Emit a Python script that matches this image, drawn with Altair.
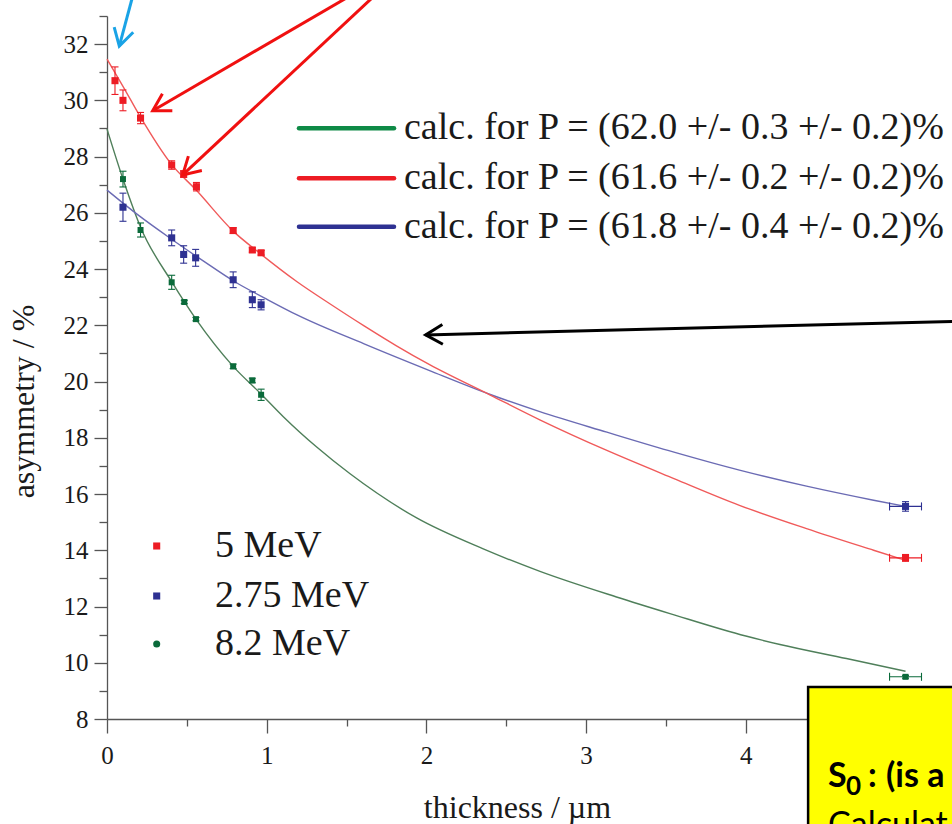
import math
import altair as alt
import pandas as pd

# ---------------- data ----------------
X_TITLE = "thickness / µm"
Y_TITLE = "asymmetry / %"

# 5 MeV (red squares)
RED_X = [0.05, 0.10, 0.21, 0.405, 0.48, 0.56, 0.79, 0.91, 0.965, 5.0]
RED_Y = [30.70, 30.00, 29.37, 27.70, 27.38, 26.93, 25.37, 24.68, 24.58, 13.73]
RED_YERR = [0.49, 0.37, 0.20, 0.15, 0.12, 0.15, 0.10, 0.08, 0.08, 0.12]
RED_XERR = [0, 0, 0, 0, 0, 0, 0, 0, 0, 0.10]

# 2.75 MeV (blue squares)
BLUE_X = [0.10, 0.405, 0.48, 0.555, 0.79, 0.91, 0.965, 5.0]
BLUE_Y = [26.20, 25.11, 24.52, 24.40, 23.62, 22.91, 22.73, 15.56]
BLUE_YERR = [0.50, 0.28, 0.31, 0.30, 0.28, 0.28, 0.18, 0.17]
BLUE_XERR = [0, 0, 0, 0, 0, 0, 0, 0.10]

# 8.2 MeV (green dots)
GREEN_X = [0.10, 0.21, 0.405, 0.484, 0.557, 0.79, 0.91, 0.965, 5.0]
GREEN_Y = [27.20, 25.39, 23.53, 22.83, 22.22, 20.54, 20.04, 19.53, 9.50]
GREEN_YERR = [0.28, 0.25, 0.25, 0.06, 0.06, 0.08, 0.08, 0.20, 0.05]
GREEN_XERR = [0, 0, 0, 0, 0, 0, 0, 0, 0.10]

# calculated curves
RED_CURVE_X = [0, 0.1, 0.21, 0.4, 0.56, 0.79, 0.96, 1.19, 1.40, 1.61, 1.81, 2.02,
               2.40, 2.71, 3.13, 3.55, 3.96, 4.38, 4.80, 5.0]
RED_CURVE_Y = [31.47, 30.50, 29.40, 27.75, 26.80, 25.35, 24.55, 23.55, 22.75, 21.98,
               21.28, 20.60, 19.52, 18.64, 17.55, 16.55, 15.60, 14.77, 14.00, 13.64]
BLUE_CURVE_X = [0, 0.2, 0.4, 0.6, 0.8, 1.0, 1.19, 1.61, 2.02, 2.40, 2.71, 3.13, 3.55,
                3.96, 4.38, 4.80, 5.0]
BLUE_CURVE_Y = [26.81, 25.90, 25.08, 24.30, 23.55, 22.93, 22.37, 21.34, 20.39, 19.54,
                18.93, 18.20, 17.49, 16.85, 16.28, 15.78, 15.56]
GREEN_CURVE_X = [0, 0.1, 0.21, 0.405, 0.557, 0.79, 0.966, 1.104, 1.313, 1.522, 1.939,
                 2.356, 2.711, 3.19, 3.525, 4.0, 4.214, 4.63, 5.0]
GREEN_CURVE_Y = [28.98, 27.20, 25.49, 23.55, 22.22, 20.54, 19.55, 18.75, 17.67, 16.72,
                 15.15, 14.05, 13.25, 12.34, 11.75, 10.95, 10.65, 10.15, 9.70]

CURVE_LABELS = ["calc. for P = (62.0 +/- 0.3 +/- 0.2)%",
                "calc. for P = (61.6 +/- 0.2 +/- 0.2)%",
                "calc. for P = (61.8 +/- 0.4 +/- 0.2)%"]
POINT_LABELS = ["5 MeV", "2.75 MeV", "8.2 MeV"]

X_TICKS = [0, 0.5, 1, 1.5, 2, 2.5, 3, 3.5, 4]
Y_TICKS = list(range(8, 34))

# slide annotations (in data units): tail x, tail y, head x, head y
ARROW_TAIL_X = [0.163, 1.532, 1.680, 5.31]
ARROW_TAIL_Y = [33.75, 33.75, 33.75, 22.14]
ARROW_HEAD_X = [0.077, 0.286, 0.474, 1.995]
ARROW_HEAD_Y = [31.93, 29.63, 27.35, 21.66]
ARROW_COLORS = ["#1aa3e6", "#f01010", "#f01010", "#000000"]
BOX_TEXTS = ["S", "0", ":", "(is a", "Calculat"]

# ---------------- layout / style ----------------
W, H = 845, 703
X_MAX = 5.291
Y_MIN, Y_MAX = 8, 33
PX_X = W / X_MAX
PX_Y = H / (Y_MAX - Y_MIN)
FONT = "Liberation Serif"
TXT = "#1a1a1a"
AX = "#555555"

RED_PT, BLUE_PT, GREEN_PT = "#ed1c24", "#2e3192", "#0a6a3a"
RED_LN, BLUE_LN, GREEN_LN = "#f05a5a", "#6b6bb4", "#4f7f5a"
LEG_LN = ["#0e8a46", "#ed1c24", "#2e3192"]

xs = alt.Scale(domain=[0, X_MAX], nice=False, zero=False)
ys = alt.Scale(domain=[Y_MIN, Y_MAX], nice=False, zero=False)

x_axis = alt.Axis(
    values=X_TICKS, title=X_TITLE, grid=False,
    labelExpr="datum.value % 1 === 0 ? format(datum.value, 'd') : ''",
    tickSize={"condition": {"test": "datum.value % 1 === 0", "value": 14}, "value": 7},
    labelPadding=10, labelFont=FONT, labelFontSize=25, labelColor=TXT,
    labelBaseline="top", labelFlush=False, labelOverlap=False,
    domainColor=AX, domainWidth=1.3, tickColor=AX, tickWidth=1.3,
    titleFont=FONT, titleFontSize=32, titleFontWeight="normal", titleColor=TXT,
    titleX=410, titleY=98, titleBaseline="alphabetic", titleAlign="center",
)
y_axis = alt.Axis(
    values=Y_TICKS, title=Y_TITLE, grid=False,
    labelExpr="datum.value % 2 === 0 ? format(datum.value, 'd') : ''",
    tickSize={"condition": {"test": "datum.value % 2 === 0", "value": 13}, "value": 8},
    labelPadding=6, labelFont=FONT, labelFontSize=25, labelColor=TXT,
    labelBaseline="middle", labelFlush=False, labelOverlap=False,
    domainColor=AX, domainWidth=1.3, tickColor=AX, tickWidth=1.3,
    titleFont=FONT, titleFontSize=32, titleFontWeight="normal", titleColor=TXT,
    titleX=-74, titleY=385, titleBaseline="alphabetic", titleAlign="center", titleAngle=270,
)


def X(field):
    return alt.X(field, type="quantitative", scale=xs, axis=x_axis)


def Y(field):
    return alt.Y(field, type="quantitative", scale=ys, axis=y_axis)


layers = []

# curves
for cx, cy, col in [(GREEN_CURVE_X, GREEN_CURVE_Y, GREEN_LN),
                    (BLUE_CURVE_X, BLUE_CURVE_Y, BLUE_LN),
                    (RED_CURVE_X, RED_CURVE_Y, RED_LN)]:
    df = pd.DataFrame({"x": cx, "y": cy})
    layers.append(alt.Chart(df).mark_line(color=col, strokeWidth=1.4, interpolate="monotone")
                  .encode(x=X("x"), y=Y("y")))

# measured points with error bars
for px_, py_, ye, xe, col, shape, size in [
        (GREEN_X, GREEN_Y, GREEN_YERR, GREEN_XERR, GREEN_PT, "square", 36),
        (BLUE_X, BLUE_Y, BLUE_YERR, BLUE_XERR, BLUE_PT, "square", 50),
        (RED_X, RED_Y, RED_YERR, RED_XERR, RED_PT, "square", 50)]:
    df = pd.DataFrame({"x": px_, "y": py_, "ye": ye, "xe": xe})
    df["lo"] = df["y"] - df["ye"]
    df["hi"] = df["y"] + df["ye"]
    df["xlo"] = df["x"] - df["xe"]
    df["xhi"] = df["x"] + df["xe"]
    caps = pd.DataFrame({"x": list(df["x"]) * 2, "yv": list(df["lo"]) + list(df["hi"])})
    dfx = df[df["xe"] > 0]
    xcaps = pd.DataFrame({"xv": list(dfx["xlo"]) + list(dfx["xhi"]), "y": list(dfx["y"]) * 2})

    layers.append(alt.Chart(df).mark_rule(color=col, strokeWidth=1.1)
                  .encode(x=X("x"), y=Y("lo"), y2="hi"))
    layers.append(alt.Chart(caps).mark_tick(color=col, orient="horizontal", size=7,
                                            thickness=1.1, opacity=1)
                  .encode(x=X("x"), y=Y("yv")))
    if len(dfx):
        layers.append(alt.Chart(dfx).mark_rule(color=col, strokeWidth=1.1)
                      .encode(x=X("xlo"), x2="xhi", y=Y("y")))
        layers.append(alt.Chart(xcaps).mark_tick(color=col, orient="vertical", size=8,
                                                 thickness=1.1, opacity=1)
                      .encode(x=X("xv"), y=Y("y")))
    layers.append(alt.Chart(df).mark_point(shape=shape, filled=True, color=col, size=size,
                                           opacity=1)
                  .encode(x=X("x"), y=Y("y")))

# legend: calculated curves
LEG1_ROWS = [112.3, 162.3, 210.7]
for lab, col, ry in zip(CURVE_LABELS, LEG_LN, LEG1_ROWS):
    d = pd.DataFrame({"label": [lab]})
    layers.append(alt.Chart(d).mark_rule(color=col, strokeWidth=4.5, strokeCap="round")
                  .encode(x=alt.value(192), x2=alt.value(287), y=alt.value(ry)))
    layers.append(alt.Chart(d).mark_text(align="left", baseline="middle", font=FONT,
                                         fontSize=38, color=TXT)
                  .encode(x=alt.value(297), y=alt.value(ry), text="label:N"))

# legend: measured data
LEG2_ROWS = [530, 580, 628]
for lab, col, shape, ry in zip(POINT_LABELS, [RED_PT, BLUE_PT, GREEN_PT],
                               ["square", "square", "circle"], LEG2_ROWS):
    d = pd.DataFrame({"label": [lab]})
    layers.append(alt.Chart(d).mark_point(shape=shape, filled=True, color=col, size=50,
                                          opacity=1)
                  .encode(x=alt.value(49.7), y=alt.value(ry)))
    layers.append(alt.Chart(d).mark_text(align="left", baseline="middle", font=FONT,
                                         fontSize=38, color=TXT)
                  .encode(x=alt.value(108), y=alt.value(ry), text="label:N"))

# slide annotations: arrows
CHEVRON = "M-1,-0.58L0,0L-1,0.58"
for tx, ty, hx, hy, col in zip(ARROW_TAIL_X, ARROW_TAIL_Y, ARROW_HEAD_X, ARROW_HEAD_Y,
                               ARROW_COLORS):
    d = pd.DataFrame({"tx": [tx], "ty": [ty], "hx": [hx], "hy": [hy]})
    ang = math.degrees(math.atan2(-(hy - ty) * PX_Y, (hx - tx) * PX_X)) % 360
    layers.append(alt.Chart(d).mark_rule(color=col, strokeWidth=3)
                  .encode(x=X("tx"), y=Y("ty"), x2="hx", y2="hy"))
    layers.append(alt.Chart(d).mark_point(shape=CHEVRON, filled=False, color=col,
                                          strokeWidth=3, size=1156, angle=ang, opacity=1,
                                          strokeJoin="miter")
                  .encode(x=X("hx"), y=Y("hy")))

# slide annotation: yellow box
box = pd.DataFrame({"x": [4.39], "x2": [5.6], "y": [9.14], "y2": [3.0]})
layers.append(alt.Chart(box).mark_rect(fill="#ffff00", stroke="#000000", strokeWidth=2.5)
              .encode(x=X("x"), x2="x2", y=Y("y"), y2="y2"))
for txt, tx, ty, fs, fw in zip(BOX_TEXTS,
                               [4.515, 4.628, 4.765, 4.878, 4.515],
                               [5.58, 5.28, 5.58, 5.58, 3.85],
                               [34, 26, 34, 34, 34],
                               ["bold", "bold", "bold", "bold", "normal"]):
    d = pd.DataFrame({"t": [txt], "x": [tx], "y": [ty]})
    layers.append(alt.Chart(d).mark_text(align="left", baseline="alphabetic", font="Lato",
                                         fontSize=fs, fontWeight=fw, color="#000000")
                  .encode(x=X("x"), y=Y("y"), text="t:N"))

chart = alt.layer(*layers).properties(
    width=W, height=H,
    autosize=alt.AutoSizeParams(type="none"),
    padding={"left": 107, "top": 16, "right": 0, "bottom": 105},
    background="white",
).configure_view(stroke=None).configure_axis(labelFont=FONT, titleFont=FONT)

chart.save("out.html", embed_options={"renderer": "svg", "actions": False})
